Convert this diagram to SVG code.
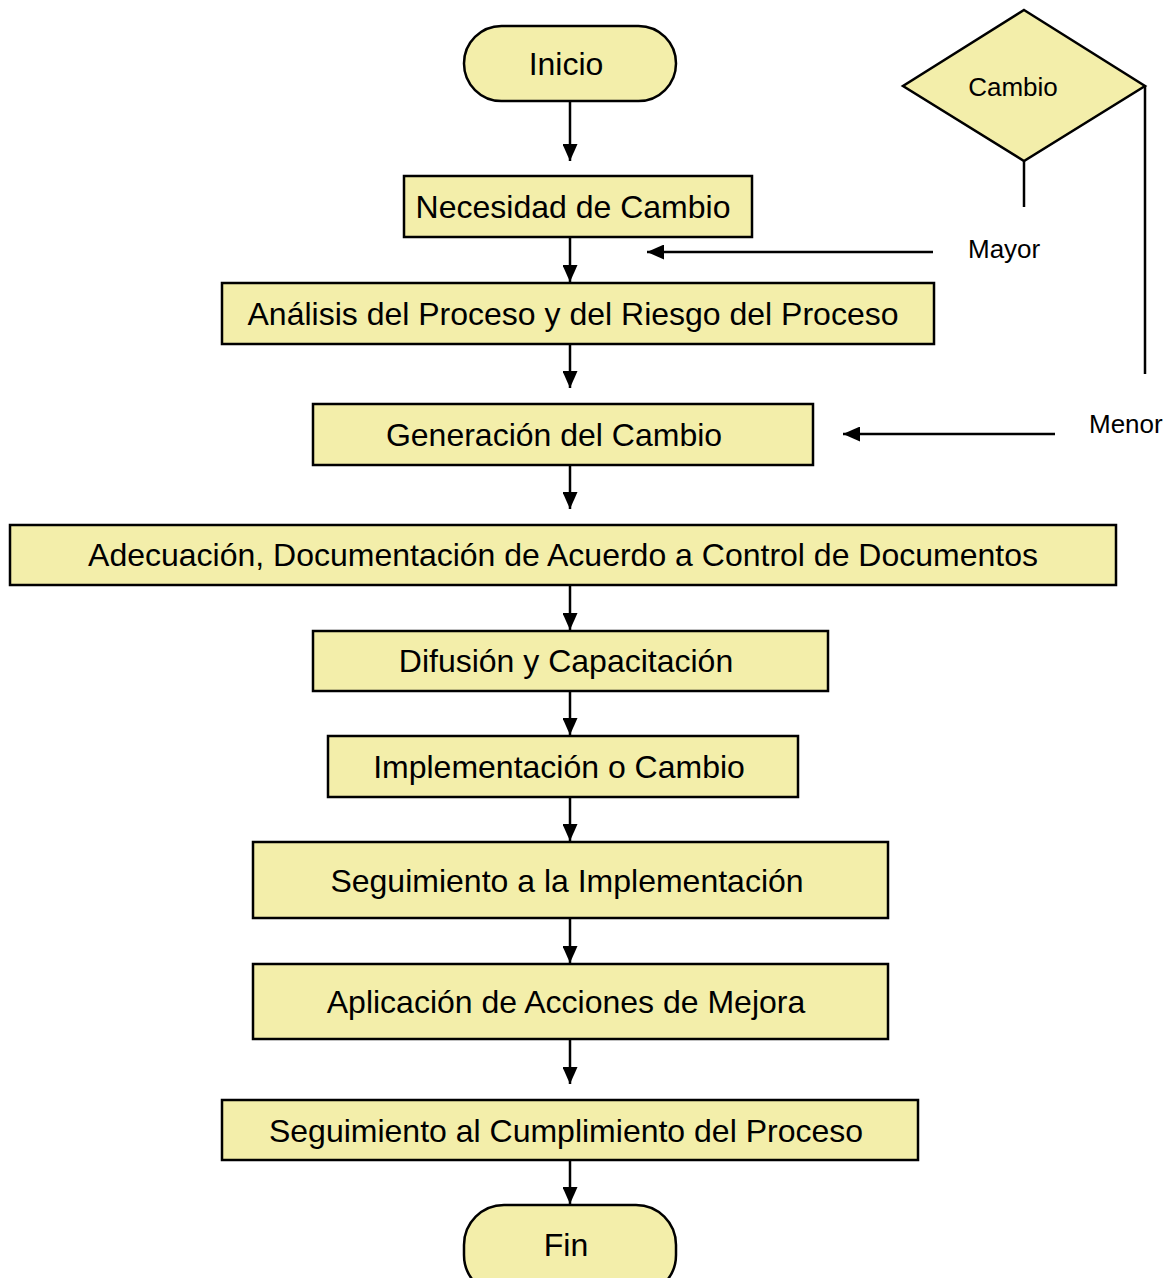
<svg xmlns="http://www.w3.org/2000/svg" width="1173" height="1278" viewBox="0 0 1173 1278">
<style>
.n{fill:#f3eeaa;stroke:#000;stroke-width:2.5}
.t{font-family:"Liberation Sans",Arial,sans-serif;font-size:32px;fill:#000;text-anchor:middle}
.s{font-family:"Liberation Sans",Arial,sans-serif;font-size:26px;fill:#000}
.c{fill:none;stroke:#000;stroke-width:2.5}
</style>
<defs>
<marker id="ah" markerWidth="17" markerHeight="15" refX="17" refY="7.5" orient="auto" markerUnits="userSpaceOnUse">
<path d="M0,0 L17,7.5 L0,15 Z" fill="#000"/>
</marker>
</defs>
<rect width="1173" height="1278" fill="#fff"/>
<g id="connectors">
<line class="c" x1="570" y1="101" x2="570" y2="161" marker-end="url(#ah)"/>
<line class="c" x1="570" y1="237" x2="570" y2="282" marker-end="url(#ah)"/>
<line class="c" x1="570" y1="344" x2="570" y2="388" marker-end="url(#ah)"/>
<line class="c" x1="570" y1="465" x2="570" y2="509" marker-end="url(#ah)"/>
<line class="c" x1="570" y1="585" x2="570" y2="630" marker-end="url(#ah)"/>
<line class="c" x1="570" y1="691" x2="570" y2="735" marker-end="url(#ah)"/>
<line class="c" x1="570" y1="797" x2="570" y2="841" marker-end="url(#ah)"/>
<line class="c" x1="570" y1="918" x2="570" y2="963" marker-end="url(#ah)"/>
<line class="c" x1="570" y1="1039" x2="570" y2="1084" marker-end="url(#ah)"/>
<line class="c" x1="570" y1="1160" x2="570" y2="1204" marker-end="url(#ah)"/>
<line class="c" x1="1024" y1="161" x2="1024" y2="207"/>
<line class="c" x1="1145" y1="86" x2="1145" y2="374"/>
<line class="c" x1="933" y1="252" x2="647" y2="252" marker-end="url(#ah)"/>
<line class="c" x1="1055" y1="434" x2="843" y2="434" marker-end="url(#ah)"/>
<text class="s" x="968" y="258">Mayor</text>
<text class="s" x="1089" y="433">Menor</text>
</g>
<g id="inicio"><rect class="n" x="464" y="26" width="212" height="75" rx="37.5"/><text class="t" x="566" y="75">Inicio</text></g>
<g id="cambio"><polygon class="n" points="1024,10 1145,86 1024,161 903,86"/><text class="s" x="1013" y="96" text-anchor="middle">Cambio</text></g>
<g id="necesidad"><rect class="n" x="404" y="176" width="348" height="61"/><text class="t" x="573" y="218">Necesidad de Cambio</text></g>
<g id="analisis"><rect class="n" x="222" y="283" width="712" height="61"/><text class="t" x="573" y="325">Análisis del Proceso y del Riesgo del Proceso</text></g>
<g id="generacion"><rect class="n" x="313" y="404" width="500" height="61"/><text class="t" x="554" y="446">Generación del Cambio</text></g>
<g id="adecuacion"><rect class="n" x="10" y="525" width="1106" height="60"/><text class="t" x="563" y="566">Adecuación, Documentación de Acuerdo a Control de Documentos</text></g>
<g id="difusion"><rect class="n" x="313" y="631" width="515" height="60"/><text class="t" x="566" y="672">Difusión y Capacitación</text></g>
<g id="implementacion"><rect class="n" x="328" y="736" width="470" height="61"/><text class="t" x="559" y="778">Implementación o Cambio</text></g>
<g id="seguimiento1"><rect class="n" x="253" y="842" width="635" height="76"/><text class="t" x="567" y="892">Seguimiento a la Implementación</text></g>
<g id="aplicacion"><rect class="n" x="253" y="964" width="635" height="75"/><text class="t" x="566" y="1013">Aplicación de Acciones de Mejora</text></g>
<g id="seguimiento2"><rect class="n" x="222" y="1100" width="696" height="60"/><text class="t" x="566" y="1142">Seguimiento al Cumplimiento del Proceso</text></g>
<g id="fin"><rect class="n" x="464" y="1205" width="212" height="90" rx="40"/><text class="t" x="566" y="1256">Fin</text></g>
</svg>
